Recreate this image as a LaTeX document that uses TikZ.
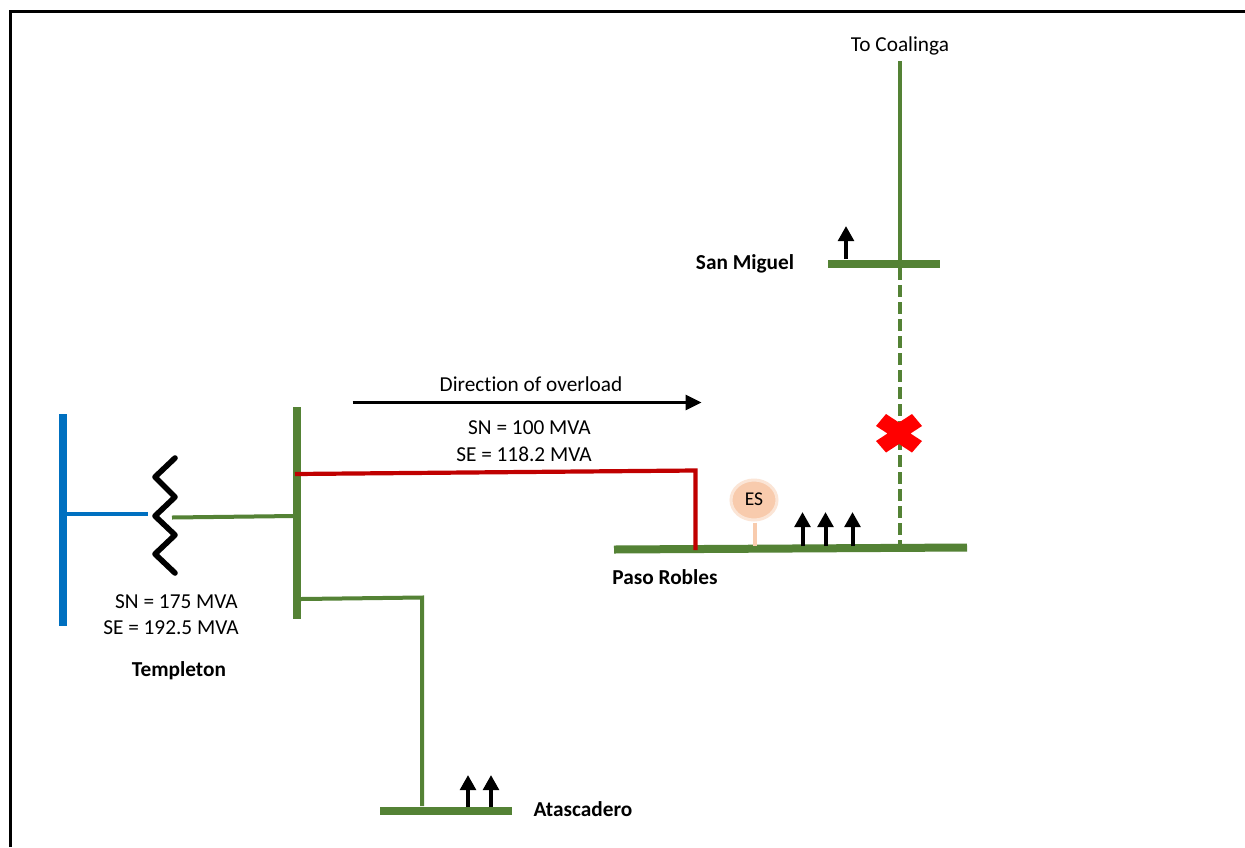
\documentclass[tikz,border=0pt]{standalone}
\usepackage{fontspec}
\setmainfont[RawFeature={-liga}]{Carlito}
\usetikzlibrary{arrows.meta,shapes.geometric}
\definecolor{busgreen}{HTML}{548235}
\definecolor{busblue}{HTML}{0070C0}
\definecolor{linered}{HTML}{C00000}
\definecolor{espeach}{HTML}{F8CBAD}
\tikzset{
  frameline/.style={line width=3pt,black},
  busbar/.style={line width=8pt,busgreen},
  lowbar/.style={line width=8pt,busblue},
  greenline/.style={line width=4pt,busgreen},
  redline/.style={line width=4.2pt,linered},
  loadarrow/.style={line width=4pt,black,-{Triangle[length=15pt,width=15.5pt]}},
  coil/.style={line width=5.6pt,black,line cap=round,line join=round},
  lbl/.style={font=\fontsize{21.3}{22}\selectfont,inner sep=0pt,text=black},
  blbl/.style={font=\fontsize{21.3}{22}\selectfont\bfseries,inner sep=0pt,text=black},
}
\begin{document}
\begin{tikzpicture}[x=1pt,y=-1pt]
\useasboundingbox (0,0) rectangle (1245,847);
\fill[white] (0,0) rectangle (1245,847);
\coordinate (fbl) at (10,847);
\coordinate (ftl) at (10,11);
\coordinate (ftr) at (1245,11);
\draw[frameline] (fbl) -- (ftl) -- (ftr);
% Templeton
\coordinate (lowT) at (63,414);
\coordinate (lowB) at (63,626);
\draw[lowbar] (lowT) -- (lowB);
\coordinate (lowTap) at (66,513.5);
\coordinate (coilL) at (148,513.5);
\draw[line width=4pt,busblue] (lowTap) -- (coilL);
\coordinate (c0) at (175,458);
\coordinate (c1) at (155,477);
\coordinate (c2) at (175,497);
\coordinate (c3) at (155,516);
\coordinate (c4) at (175,535);
\coordinate (c5) at (155,554);
\coordinate (c6) at (175,573);
\draw[coil] (c0) -- (c1) -- (c2) -- (c3) -- (c4) -- (c5) -- (c6);
\coordinate (hvT) at (297,407);
\coordinate (hvB) at (297,619);
\draw[busbar] (hvT) -- (hvB);
\coordinate (coilR) at (172,517.5);
\coordinate (hvTap) at (294,516);
\draw[greenline] (coilR) -- (hvTap);
% Atascadero
\coordinate (hvTap2) at (301,599);
\coordinate (atCorner) at (422,597.5);
\coordinate (atTap) at (422,806);
\draw[greenline,line join=miter] (hvTap2) -- (atCorner) -- (atTap);
\coordinate (atL) at (380,810.5);
\coordinate (atR) at (512,810.5);
\draw[busbar] (atL) -- (atR);
\coordinate (a1s) at (468,807);
\coordinate (a1e) at (468,775);
\coordinate (a2s) at (491,807);
\coordinate (a2e) at (491,775);
\draw[loadarrow] (a1s) -- (a1e);
\draw[loadarrow] (a2s) -- (a2e);
% Paso Robles
\coordinate (prL) at (614,549.5);
\coordinate (prR) at (967,547.5);
\draw[busbar] (prL) -- (prR);
\coordinate (redA) at (295,474);
\coordinate (redB) at (695.5,470.5);
\coordinate (redC) at (695.5,550);
\draw[redline,line join=miter] (redA) -- (redB) -- (redC);
\node[ellipse,inner sep=0pt,fill=espeach,draw=espeach!50,line width=3pt,
  minimum width=46pt,minimum height=40pt] (es) at (754,500) {};
\node[lbl,font=\fontsize{19.5}{20}\selectfont] (estxt) at (754,499) {ES};
\coordinate (esb) at (755,546);
\draw[line width=4pt,espeach] (es.south) ++(1,1) -- (esb);
\coordinate (p1s) at (802.5,546);
\coordinate (p1e) at (802.5,512);
\coordinate (p2s) at (825.5,546);
\coordinate (p2e) at (825.5,512);
\coordinate (p3s) at (852.5,546);
\coordinate (p3e) at (852.5,512);
\draw[loadarrow] (p1s) -- (p1e);
\draw[loadarrow] (p2s) -- (p2e);
\draw[loadarrow] (p3s) -- (p3e);
% San Miguel line
\coordinate (colT) at (899.5,61);
\coordinate (smTap) at (899.5,262);
\coordinate (prTap) at (899.5,545);
\draw[greenline] (colT) -- (smTap);
\draw[greenline,dash pattern=on 11.5pt off 5.5pt] (smTap) ++(0,6) -- (prTap);
\coordinate (smL) at (828,264);
\coordinate (smR) at (940,264);
\draw[busbar] (smL) -- (smR);
\coordinate (s1s) at (846,259);
\coordinate (s1e) at (846,226);
\draw[loadarrow] (s1s) -- (s1e);
% cross
\fill[red] (899,422.5) -- (912,414) -- (922,426) -- (910.5,433.5) -- (922,441) -- (912,452.5) -- (899,444) -- (886,452.5) -- (876,441) -- (887.5,433.5) -- (876,426) -- (886,414) -- cycle;
% overload arrow
\coordinate (ovS) at (352.5,402.5);
\coordinate (ovE) at (701.5,402.5);
\draw[line width=2.8pt,black,-{Triangle[length=16pt,width=15pt]}] (ovS) -- (ovE);
% labels
\node[lbl] (coal) at (900,45.5) {To Coalinga};
\node[blbl] (sanm) at (745,263.5) {San Miguel};
\node[lbl] (dir) at (531,384.5) {Direction of overload};
\node[lbl] (sn1) at (529.5,428) {SN = 100 MVA};
\node[lbl] (se1) at (524,454) {SE = 118.2 MVA};
\node[blbl] (paso) at (665,577.5) {Paso Robles};
\node[lbl] (sn2) at (176.5,602) {SN = 175 MVA};
\node[lbl] (se2) at (171,628) {SE = 192.5 MVA};
\node[blbl] (temp) at (179,670.5) {Templeton};
\node[blbl] (atas) at (583,809) {Atascadero};
\end{tikzpicture}
\end{document}
